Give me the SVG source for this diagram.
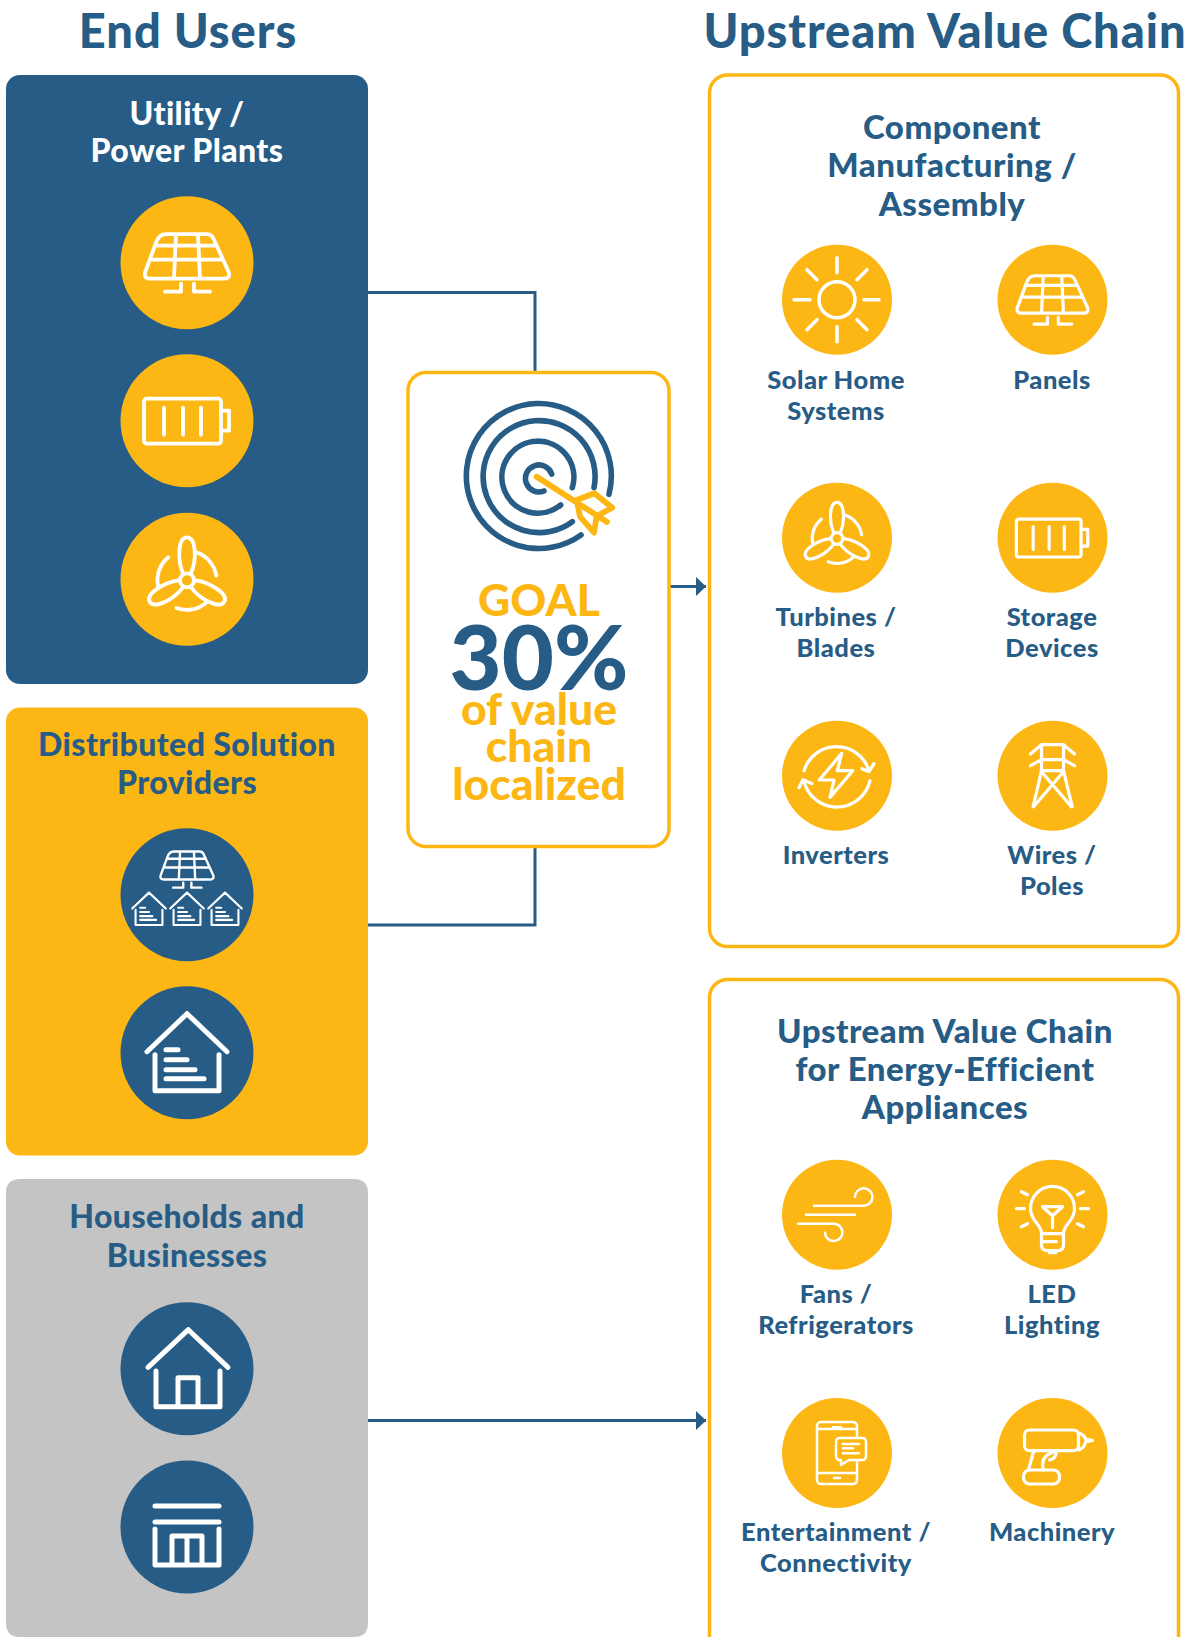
<svg xmlns="http://www.w3.org/2000/svg" xmlns:xlink="http://www.w3.org/1999/xlink" width="1194" height="1637" viewBox="0 0 1194 1637">
<style>
text{font-family:Lato,"Liberation Sans",sans-serif;font-weight:900;text-anchor:middle}
.h{font-size:47px;fill:#265c85;letter-spacing:.95px}
.t{font-size:32px;fill:#265c85;letter-spacing:.4px}
.r{font-size:33px;letter-spacing:.5px}
.w{fill:#fff}
.l{font-size:25.5px;fill:#265c85;letter-spacing:.5px}
.g{fill:#fdb714;font-size:44.5px}
.ic{fill:none;stroke:#fff;stroke-width:3.8;stroke-linecap:round;stroke-linejoin:round}
.th{stroke-width:5}
.y{fill:#fdb714}
.b{fill:#265c85}
.box{fill:#fff;stroke:#fdb714;stroke-width:3.5}
.c{fill:none;stroke:#265c85;stroke-width:3}
.ring{fill:none;stroke:#265c85;stroke-width:5.6;stroke-linecap:round}
.arw{fill:none;stroke:#fdb714;stroke-width:5.8;stroke-linecap:round;stroke-linejoin:round}
</style>
<defs>
<marker id="ah" markerUnits="userSpaceOnUse" markerWidth="11" markerHeight="20" refX="10.5" refY="10" orient="auto"><path d="M0,0L10.5,10L0,20Z" fill="#265c85"/></marker>
<g id="i-panel" class="ic"><path d="M-21,-28.5H20Q25,-28.5 27,-23L42,10Q43,16 37,16H-37Q-43,16 -42,10L-31,-20Q-28,-28.5 -21,-28.5ZM-11,-28.5L-13,16M11,-28.5L13,16M-29,-17H29M-34,-3H34M-6,21V29H-22M7,21V29H23"/></g>
<g id="i-batt" class="ic"><rect x="-43" y="-22" width="77" height="45" rx="3"/><path d="M34,-10H42V10H34M-23,-13V14M-4,-13V14M14,-13V14"/></g>
<g id="i-turb" class="ic"><circle cy="1" r="7"/><g id="bl"><path d="M-4,-6C-10,-20 -9,-42 0,-42C9,-42 10,-20 4,-6M9.3,-27A29.5,29.5 0 0 1 29.3,-3.7"/></g><use xlink:href="#bl" href="#bl" transform="rotate(120 0 1)"/><use xlink:href="#bl" href="#bl" transform="rotate(240 0 1)"/></g>
<g id="i-house"><path class="ic th" d="M0,-39L-40,-1M0,-39L40,-1M-32,2V38H32V2M-21,-3H-9M-21,7H0M-21,17H8M-21,26H17"/></g>
<g id="i-home"><path class="ic th" d="M1.3,-39L-39,-1.3M1.3,-39L41,-1.3M-31,2.3V38H33V2.3M-9,38V9H11V38"/></g>
<g id="i-shop"><path class="ic th" d="M-32,-21H32M-32,-5H32M-32,2V38H32V2M-15,38V9H15V38M0,9V38"/></g>
</defs>

<g id="headers">
<text class="h" x="188" y="48">End Users</text>
<text class="h" x="945" y="48">Upstream Value Chain</text>
</g>

<g id="connectors">
<path class="c" d="M368,292.5H535V372"/>
<path class="c" d="M535,846V925H368"/>
<path class="c" d="M669,586.5H706" marker-end="url(#ah)"/>
<path class="c" d="M368,1420.5H706" marker-end="url(#ah)"/>
</g>

<g id="utility">
<rect x="6" y="75" width="362" height="609" rx="14" class="b"/>
<text class="t w" x="187" y="125">Utility /</text>
<text class="t w" x="187" y="162">Power Plants</text>
<circle class="y" cx="187" cy="262.7" r="66.5"/><use href="#i-panel" x="187" y="262.7"/>
<circle class="y" cx="187" cy="420.7" r="66.5"/><use href="#i-batt" x="187" y="420.7"/>
<circle class="y" cx="187" cy="579.3" r="66.5"/><use href="#i-turb" x="187" y="579.3"/>
</g>

<g id="distributed">
<rect x="6" y="707.5" width="362" height="448" rx="14" class="y"/>
<text class="t" x="187" y="756">Distributed Solution</text>
<text class="t" x="187" y="794">Providers</text>
<circle class="b" cx="187" cy="894.7" r="66.5"/>
<use href="#i-panel" transform="translate(187,869.4) scale(.63)"/>
<use href="#i-house" transform="translate(149,909) scale(.42)"/>
<use href="#i-house" transform="translate(187,909) scale(.42)"/>
<use href="#i-house" transform="translate(225,909) scale(.42)"/>
<circle class="b" cx="187" cy="1052.7" r="66.5"/><use href="#i-house" x="187" y="1052.7"/>
</g>

<g id="households">
<path style="fill:#c4c4c4" d="M20,1179H354Q368,1179 368,1193V1623Q368,1637 354,1637H20Q6,1637 6,1623V1193Q6,1179 20,1179Z"/>
<text class="t" x="187" y="1228">Households and</text>
<text class="t" x="187" y="1267">Businesses</text>
<circle class="b" cx="187" cy="1368.7" r="66.5"/><use href="#i-home" x="187" y="1368.7"/>
<circle class="b" cx="187" cy="1527" r="66.5"/><use href="#i-shop" x="187" y="1527"/>
</g>

<g id="goal">
<rect class="box" x="408" y="372.5" width="261" height="474" rx="18"/>
<path class="ring" d="M609,494.3A72.5,72.5 0 1 0 581,535M594,487.7A56,56 0 1 0 572.3,521.7M572.3,487.7A36,36 0 1 0 560.7,505M551.7,474A13.5,13.5 0 1 0 544,491"/>
<path class="arw" d="M536.7,476.7L607,522M576.7,500L594.3,493.3L612.3,507.7L596.7,516L594,532.7L580,516.7Z"/>
<text class="g" x="539" y="616">GOAL</text>
<text class="b" x="539" y="690" style="font-size:90px">30%</text>
<text class="g" x="539" y="725">of value</text>
<text class="g" x="539" y="762">chain</text>
<text class="g" x="539" y="800">localized</text>
</g>

<g id="component">
<rect class="box" x="709.5" y="75" width="469" height="871.5" rx="18"/>
<text class="t r" x="952" y="139">Component</text>
<text class="t r" x="952" y="177">Manufacturing /</text>
<text class="t r" x="952" y="216">Assembly</text>
</g>
<g id="solar-home"><circle class="y" cx="837" cy="299.7" r="55"/>
<g class="ic" style="stroke-width:3.5" transform="translate(837,299.7)"><circle r="18"/><path d="M0,-42V-27M0,27V42M-43,0H-27M27,0H42M-30,-30L-20,-20M30,-30L20,-20M-30,30L-20,20M30,30L20,20"/></g>
<text class="l" x="836" y="389">Solar Home</text><text class="l" x="836" y="420">Systems</text></g>
<g id="panels"><circle class="y" cx="1052.5" cy="299.7" r="55"/><use href="#i-panel" transform="translate(1052.5,299.7) scale(.84)"/>
<text class="l" x="1052" y="389">Panels</text></g>
<g id="turbines"><circle class="y" cx="837" cy="537.7" r="55"/><use href="#i-turb" transform="translate(837,537.7) scale(.84)"/>
<text class="l" x="836" y="626">Turbines /</text><text class="l" x="836" y="657">Blades</text></g>
<g id="storage"><circle class="y" cx="1052.5" cy="537.7" r="55"/><use href="#i-batt" transform="translate(1052.5,537.7) scale(.84)"/>
<text class="l" x="1052" y="626">Storage</text><text class="l" x="1052" y="657">Devices</text></g>
<g id="inverters"><circle class="y" cx="837" cy="775.7" r="55"/>
<g class="ic" style="stroke-width:3.2" transform="translate(837,775.7)"><path d="M-33,-5A34,34 0 0 1 32,-5M33,5A34,34 0 0 1 -33,6M25,-7L32,-4L37,-12M-25,8L-34,4L-38,12M4.7,-22.3L-17.7,4.3H-3L-7,21.7L15.7,-5H.3Z"/></g>
<text class="l" x="836" y="864">Inverters</text></g>
<g id="wires"><circle class="y" cx="1052.5" cy="775.7" r="55"/>
<g class="ic" style="stroke-width:3.2" transform="translate(1052.5,775.7)"><path d="M-11,-31H11M-11,-31L-22,-21.7M11,-31L22,-21.7M-11,-16H11M-11,-16L-22,-10M11,-16L22,-10M-11,-31V-5M11,-31V-5M-11,-5H11M-11,-5L-19.3,31M11,-5L19.7,31M-11,-4L19,31M11,-4L-19,31"/></g>
<text class="l" x="1052" y="864">Wires /</text><text class="l" x="1052" y="895">Poles</text></g>

<g id="appliances">
<rect class="box" x="709.5" y="979.5" width="469" height="680" rx="18"/>
<text class="t r" x="945" y="1043">Upstream Value Chain</text>
<text class="t r" x="945" y="1081">for Energy-Efficient</text>
<text class="t r" x="945" y="1119">Appliances</text>
</g>
<g id="fans"><circle class="y" cx="837" cy="1214.7" r="55"/>
<g class="ic" style="stroke-width:2.5" transform="translate(837,1214.7)"><path d="M-23,-9H26A8.7,8.7 0 1 0 18,-18M-31,0H18M-39,9H-4A8.7,8.7 0 1 1 -12,18"/></g>
<text class="l" x="836" y="1303">Fans /</text><text class="l" x="836" y="1334">Refrigerators</text></g>
<g id="led"><circle class="y" cx="1052.5" cy="1214.7" r="55"/>
<g class="ic" style="stroke-width:3.2" transform="translate(1052.5,1214.7)"><path d="M-11,19C-11,9 -22,7 -22,-6.3A22,22 0 1 1 22,-6.3C22,7 11,9 11,19V30Q11,36 5,36H-5Q-11,36 -11,30ZM-11,19H11M-11,27H4M-10,-8H10L0,1ZM0,1V13M-36,-6H-28M28,-6H36M-31,-23L-25,-20M25,-20L31,-23M-31,12L-25,9M25,9L31,12M-3,38H3"/></g>
<text class="l" x="1052" y="1303">LED</text><text class="l" x="1052" y="1334">Lighting</text></g>
<g id="entertainment"><circle class="y" cx="837" cy="1453" r="55"/>
<g class="ic" style="stroke-width:2.5" transform="translate(837,1453)"><rect x="-20" y="-31" width="40" height="62" rx="4"/><path d="M-20,-24H20M-20,20H20M-4,-25.7H4M-3,25H3"/><path style="fill:#fdb714" d="M3,-15H25Q29,-15 29,-11V3Q29,7 25,7H12L4,12V7H3Q-1,7 -1,3V-11Q-1,-15 3,-15Z"/><path d="M6,-9H22M6,-4.7H16M6,.3H22"/></g>
<text class="l" x="836" y="1541">Entertainment /</text><text class="l" x="836" y="1572">Connectivity</text></g>
<g id="machinery"><circle class="y" cx="1052.5" cy="1453" r="55"/>
<g class="ic" style="stroke-width:3.2" transform="translate(1052.5,1453)"><rect x="-28" y="-23" width="54" height="20.7" rx="5"/><path d="M26,-20Q32,-18 33,-14L40,-12.5L33,-11Q32,-5 26,-3M-19,-1.3L-24,17M-9,17Q-13,3 2,-1.3M-3,7Q3,6 4,-1"/><rect x="-29" y="17" width="36" height="14" rx="6"/></g>
<text class="l" x="1052" y="1541">Machinery</text></g>
</svg>
